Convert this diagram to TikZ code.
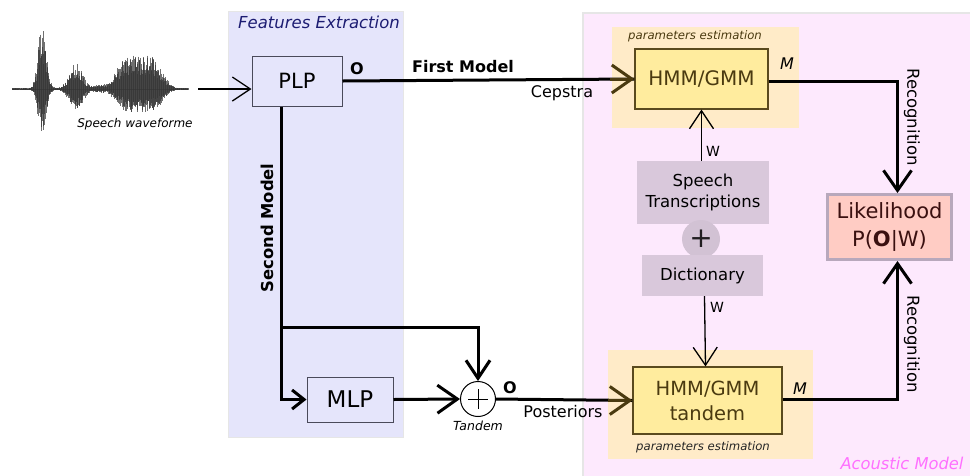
\documentclass[tikz,border=0pt]{standalone}
\usepackage{fontspec}
\setmainfont{DejaVu Sans}
\usetikzlibrary{arrows.meta,calc}

\definecolor{fepanel}{HTML}{E5E5FB}
\definecolor{ampanel}{HTML}{FDE9FD}
\definecolor{panelline}{HTML}{E6E6E6}
\definecolor{navytxt}{HTML}{1C1C72}
\definecolor{amtxt}{HTML}{FF70FF}
\definecolor{boxedge}{HTML}{4A4A5A}
\definecolor{estbg}{HTML}{FFEBC8}
\definecolor{hmmfill}{HTML}{FFEC9E}
\definecolor{hmmedge}{HTML}{5A4A1E}
\definecolor{hmmtxt}{HTML}{4A3A10}
\definecolor{lexfill}{HTML}{D9C8DB}
\definecolor{plusfill}{HTML}{D2C2D4}
\definecolor{likefill}{HTML}{FFCCC4}
\definecolor{likeedge}{HTML}{B8A8BC}
\definecolor{liketxt}{HTML}{3A1010}

\newcommand{\fs}[1]{\fontsize{#1}{#1}\selectfont}

\begin{document}
\begin{tikzpicture}[x=1pt,y=-1pt,
  procbox/.style={draw=boxedge, line width=1pt, fill=fepanel, inner sep=0pt,
    font=\fs{21}},
  hmmbox/.style={draw=hmmedge, line width=1.2pt, fill=hmmfill, text=hmmtxt,
    inner sep=0pt, align=center},
  lexbox/.style={fill=lexfill, inner sep=0pt, align=center,
    font=\fontsize{16.5}{21}\selectfont},
  label16/.style={inner sep=0pt, font=\fs{16}},
  thickline/.style={line width=3pt},
  thinline/.style={line width=1.3pt},
  bigtip/.style={-{Straight Barb[length=20pt,width=28pt,line width=3pt]}},
  midtip/.style={-{Straight Barb[length=18pt,width=24pt,line width=3pt]}},
  smalltip/.style={-{Straight Barb[length=12pt,width=19pt,line width=3pt]}},
  thintip/.style={-{Straight Barb[length=18pt,width=24pt,line width=1.3pt]}},
  wave/.style={line width=0.55pt, black!80, opacity=0.7}]

\useasboundingbox (0,0) rectangle (970,475);

% ---------- background panels ----------
\path[fill=fepanel, draw=panelline, line width=1pt] (228,11) rectangle (403,437);
\path[fill=ampanel, draw=panelline, line width=2pt] (583,13) rectangle (985,490);
\fill[estbg] (612,27) rectangle (799,128);
\fill[estbg] (608,350) rectangle (813,459);

\node[inner sep=0pt, font=\itshape\fs{16.5}, text=navytxt] (fetitle) at (319,22) {Features Extraction};
\node[inner sep=0pt, font=\itshape\fs{16.3}, text=amtxt] (amtitle) at (902,463) {Acoustic Model};
\node[inner sep=0pt, font=\itshape\fs{11.7}, text=hmmtxt] (est1) at (695,36) {parameters estimation};
\node[inner sep=0pt, font=\itshape\fs{11.7}, text=black!85] (est2) at (703,447) {parameters estimation};

% ---------- speech waveform ----------
\draw[line width=0.6pt, black!45] (12,89) -- (188,89);
\pgfmathsetseed{11}
\foreach \i in {0,...,440}{
  \pgfmathsetmacro\xx{12+\i*0.4}
  \pgfmathsetmacro\ua{min(10,abs(\xx-42)/5.5)}
  \pgfmathsetmacro\ub{min(10,abs(\xx-76)/9)}
  \pgfmathsetmacro\uc{min(4,abs(\xx-139)/26)}
  \pgfmathsetmacro\ud{min(4,abs(\xx-100)/7)}
  \pgfmathsetmacro\ea{max(-20,-\ua*\ua)}
  \pgfmathsetmacro\eb{max(-20,-\ub*\ub)}
  \pgfmathsetmacro\ec{max(-20,-\uc*\uc*\uc*\uc)}
  \pgfmathsetmacro\ed{max(-20,-\ud*\ud*\ud*\ud)}
  \pgfmathsetmacro\envu{66*exp(\ea)+25*exp(\eb)+33*exp(\ec)+3*exp(\ed)+1}
  \pgfmathsetmacro\envd{46*exp(\ea)+22*exp(\eb)+23*exp(\ec)+3*exp(\ed)+1}
  \pgfmathsetmacro\up{\envu*(0.4+0.6*rnd)}
  \pgfmathsetmacro\dn{\envd*(0.4+0.6*rnd)}
  \draw[wave] (\xx,89-\up) -- (\xx,89+\dn);
}
\node[inner sep=0pt, font=\itshape\fs{12}] (wavelabel) at (135,124) {Speech waveforme};
\coordinate (wv) at (198,89);

% ---------- processing nodes ----------
\node[procbox, minimum width=90pt, minimum height=50pt] (plp) at (297,81) {PLP};
\node[procbox, minimum width=86pt, minimum height=45pt, font=\fs{23}] (mlp) at (350,399.5) {MLP};
\node[circle, draw=black, line width=1pt, fill=white, minimum size=35pt, inner sep=0pt] (tan) at (478,399) {};
\draw[line width=0.8pt] ($(tan.center)+(-10,0)$) -- ($(tan.center)+(10,0)$)
                        ($(tan.center)+(0,-10)$) -- ($(tan.center)+(0,10)$);
\node[inner sep=0pt, font=\itshape\fs{12.5}] (tanlabel) at (478,426) {Tandem};

\node[hmmbox, minimum width=133pt, minimum height=60pt, font=\fs{20}] (hmm1) at (701.5,79) {HMM/GMM};
\node[hmmbox, minimum width=149pt, minimum height=67pt, font=\fontsize{19.5}{25}\selectfont] (hmm2) at (707.5,400.5) {HMM/GMM\\tandem};

\node[lexbox, minimum width=132pt, minimum height=63pt] (trans) at (703,192.5) {Speech\\Transcriptions};
\node[circle, fill=plusfill, minimum size=38pt, inner sep=0pt, text=black!85!lexfill, font=\fs{28}] (plus) at (701,239) {+};
\node[lexbox, minimum width=121pt, minimum height=41pt] (dict) at (702.5,275.5) {Dictionary};

\node[draw=likeedge, line width=3pt, fill=likefill, text=liketxt, inner sep=0pt, align=center,
      minimum width=124pt, minimum height=65pt, font=\fontsize{21}{28}\selectfont] (like) at (889.5,227)
      {Likelihood\\P(\textbf{O}|W)};

% ---------- connectors ----------
\draw[thinline, thintip] (wv) -- (wv -| plp.west);

\draw[thickline] (plp.east) -- (hmm1.west);
\draw[line width=3pt, hmmtxt, -{Straight Barb[length=20pt,width=28pt,line width=3pt]}]
  ($(hmm1.west)+(-24,0)$) -- (hmm1.west);
\node[label16, font=\bfseries\fs{16}] (first) at (463,67) {First Model};
\node[label16] (cep) at (562,93) {Cepstra};
\node[label16, font=\bfseries\fs{16}] (o1) at (357,69) {O};

\coordinate (sm) at ([xshift=-16pt]plp.south);
\coordinate (br) at (sm |- 0,327);
\draw[thickline, smalltip] (sm) |- (mlp.west);
\draw[thickline, midtip] (br) -| (tan.north);
\node[label16, font=\bfseries\fs{16.4}, rotate=90] (second) at (267,228) {Second Model};

\draw[thickline, bigtip] (mlp.east) -- (tan.west);
\draw[thickline] (tan.east) -- (hmm2.west);
\draw[line width=3pt, hmmtxt, -{Straight Barb[length=20pt,width=28pt,line width=3pt]}]
  ($(hmm2.west)+(-24,0)$) -- (hmm2.west);
\node[label16, font=\bfseries\fs{16}] (o2) at (510,388) {O};
\node[label16] (post) at (563,412) {Posteriors};

\draw[thinline, thintip] (trans.north -| hmm1.south) -- (hmm1.south);
\node[inner sep=0pt, font=\fs{14}] (w1) at (713,151) {W};
\draw[thinline, thintip] ([xshift=2pt]dict.south) -- ([xshift=-2pt]hmm2.north);
\node[inner sep=0pt, font=\fs{14}] (w2) at (717,307) {W};

\draw[thickline, bigtip] ([yshift=-2pt]hmm1.east) -| ([xshift=8pt]like.north);
\node[inner sep=0pt, font=\itshape\fs{16}] (m1) at (787,64) {M};
\node[label16, font=\fs{16.5}, rotate=-90] (rec1) at (912,117) {Recognition};

\draw[thickline, bigtip] ([yshift=1.5pt]hmm2.east) -| ([xshift=8pt]like.south);
\node[inner sep=0pt, font=\itshape\fs{16}] (m2) at (800,389) {M};
\node[label16, font=\fs{16.5}, rotate=-90] (rec2) at (912,344) {Recognition};

\end{tikzpicture}
\end{document}
